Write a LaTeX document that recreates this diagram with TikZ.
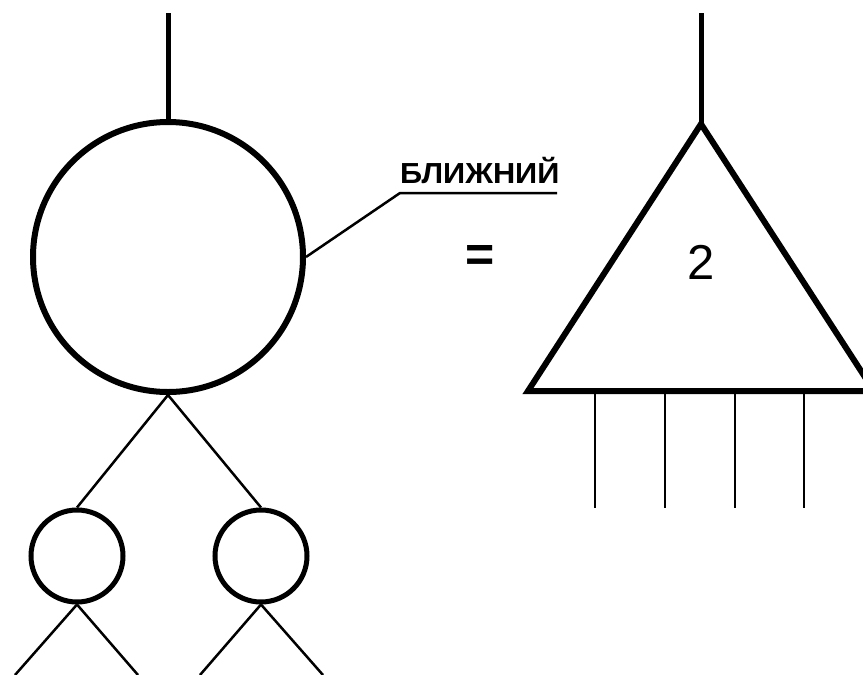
\documentclass[tikz,border=0pt]{standalone}
\usepackage{fontspec}
\setmainfont{Liberation Sans}
\begin{document}
\begin{tikzpicture}[x=1pt,y=-1pt,
  thickln/.style={line width=5pt},
  thinln/.style={line width=2.5pt},
  bigc/.style={circle,draw,line width=6pt,inner sep=0pt,minimum size=270pt},
  smallc/.style={circle,draw,line width=5pt,inner sep=0pt,minimum size=92pt},
  lbl/.style={font=\fontsize{29}{34}\selectfont\bfseries,inner sep=0pt,xscale=1.06},
  big/.style={font=\fontsize{49}{58}\selectfont,inner sep=0pt}]
\useasboundingbox (0,0) rectangle (863,675);
% left tree
\node[bigc] (B) at (168,257) {};
\coordinate (Btop) at (168,13);
\draw[thickln] (Btop) -- (B.north);
\node[smallc] (L) at (77,556) {};
\node[smallc] (R) at (261,556) {};
\draw[thinln] (B.south) -- (L.north);
\draw[thinln] (B.south) -- (R.north);
\coordinate (L1) at (15,675);
\coordinate (L2) at (138,675);
\coordinate (R1) at (200,675);
\coordinate (R2) at (323,675);
\draw[thinln] (L.south) -- (L1);
\draw[thinln] (L.south) -- (L2);
\draw[thinln] (R.south) -- (R1);
\draw[thinln] (R.south) -- (R2);
% label
\coordinate (k1) at (400,193);
\coordinate (k2) at (557,193);
\draw[thinln] (B.east) -- (k1) -- (k2);
\node[lbl,anchor=base west] (lab) at (400,183) {БЛИЖНИЙ};
% equals
\node[big,font=\fontsize{50}{58}\selectfont\bfseries] (eq) at (480,258) {=};
% triangle
\coordinate (T) at (701,124);
\coordinate (TL) at (528,391);
\coordinate (TR) at (874,391);
\coordinate (Ttop) at (701,13);
\draw[thickln] (Ttop) -- (T);
\draw[line width=6pt,line join=miter] (T) -- (TL) -- (TR) -- cycle;
\node[big] (two) at (701,262) {2};
\foreach \x [count=\i] in {595,665,735,804}{
  \coordinate (a\i) at (\x,393);
  \coordinate (b\i) at (\x,508);
  \draw[line width=2.2pt] (a\i) -- (b\i);
}
\end{tikzpicture}
\end{document}
